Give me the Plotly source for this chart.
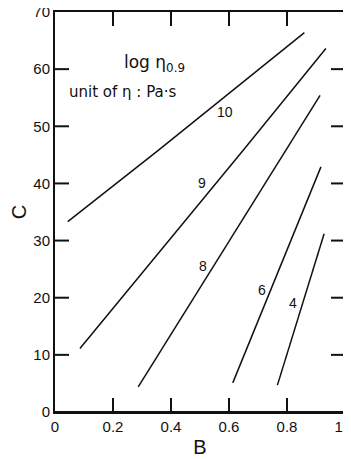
import plotly.graph_objects as go

# Iso-viscosity lines (log eta_0.9)
B_10 = [0.044, 0.356, 0.860]
C_10 = [33.3, 45.8, 66.4]
B_9 = [0.086, 0.649, 0.934]
C_9 = [11.1, 45.8, 63.6]
B_8 = [0.287, 0.732, 0.914]
C_8 = [4.4, 40.6, 55.4]
B_6 = [0.613, 0.917]
C_6 = [5.1, 42.9]
B_4 = [0.767, 0.928]
C_4 = [4.7, 31.2]

line_names = ["10", "9", "8", "6", "4"]
label_B = [0.586, 0.508, 0.511, 0.713, 0.822]
label_C = [52.5, 40.1, 25.5, 21.4, 19.1]

x_ticks = [0, 0.2, 0.4, 0.6, 0.8, 1.0]
x_ticktext = ["0", "0.2", "0.4", "0.6", "0.8", "1.0"]
y_ticks = [0, 10, 20, 30, 40, 50, 60, 70]
x_range = [0, 1.0]
y_range = [0, 70]

FONT = "Liberation Sans, Arial, sans-serif"
INK = "#111111"

# figure geometry (the page body adds an 8 px margin, so the figure is sized for that shift)
FIG_W, FIG_H = 343, 451
M_L, M_R, M_T, M_B = 47, 6, 4, 47
TICK_LEN = 14  # px
plot_w = FIG_W - M_L - M_R
plot_h = FIG_H - M_T - M_B
dx = TICK_LEN / plot_w * (x_range[1] - x_range[0])
dy = TICK_LEN / plot_h * (y_range[1] - y_range[0])

fig = go.Figure()
series = [(B_10, C_10), (B_9, C_9), (B_8, C_8), (B_6, C_6), (B_4, C_4)]
for name, (bx, cy) in zip(line_names, series):
    fig.add_trace(go.Scatter(x=bx, y=cy, mode="lines", name=name,
                             line=dict(color=INK, width=1.5),
                             showlegend=False, hoverinfo="skip"))

# inward tick marks on all four sides plus the bottom frame edge, built from the tick arrays
tx, ty = [], []
for c in y_ticks:
    if y_range[0] < c < y_range[1]:
        tx += [x_range[0], x_range[0] + dx, None, x_range[1] - dx, x_range[1], None]
        ty += [c, c, None, c, c, None]
for b in x_ticks:
    if x_range[0] < b < x_range[1]:
        tx += [b, b, None, b, b, None]
        ty += [y_range[0], y_range[0] + dy, None, y_range[1] - dy, y_range[1], None]
tx += [x_range[0], x_range[1]]
ty += [y_range[0], y_range[0]]
fig.add_trace(go.Scatter(x=tx, y=ty, mode="lines", line=dict(color=INK, width=2),
                         showlegend=False, hoverinfo="skip", cliponaxis=False))

for name, lb, lc in zip(line_names, label_B, label_C):
    fig.add_annotation(x=lb, y=lc, text=name, showarrow=False,
                       font=dict(family=FONT, size=14, color=INK))

fig.add_annotation(x=0.234, y=61.0, xanchor="left", yanchor="middle",
                   text="log \u03b7<sub>0.9</sub>", showarrow=False, borderpad=0,
                   font=dict(family="DejaVu Sans, sans-serif", size=17, color=INK))
fig.add_annotation(x=0.045, y=56.0, xanchor="left", yanchor="middle",
                   text="unit of \u03b7 : Pa\u00b7s", showarrow=False, borderpad=0,
                   font=dict(family="DejaVu Sans, sans-serif", size=15, color=INK))

axis_common = dict(showline=True, linecolor=INK, linewidth=2, mirror=True,
                   ticks="", showgrid=False, zeroline=False, automargin=False,
                   ticklabeloverflow="allow",
                   tickfont=dict(family=FONT, size=15, color=INK))

fig.update_xaxes(range=x_range, tickmode="array", tickvals=x_ticks, ticktext=x_ticktext,
                 title=dict(text="B", font=dict(family=FONT, size=20, color=INK), standoff=6),
                 **axis_common)
fig.update_yaxes(range=y_range, tickmode="array", tickvals=y_ticks,
                 title=dict(text="C", font=dict(family=FONT, size=20, color=INK), standoff=12),
                 **axis_common)

fig.update_layout(width=FIG_W, height=FIG_H,
                  margin=dict(l=M_L, r=M_R, t=M_T, b=M_B, autoexpand=False),
                  paper_bgcolor="white", plot_bgcolor="rgba(0,0,0,0)")

fig.write_html("out.html")
